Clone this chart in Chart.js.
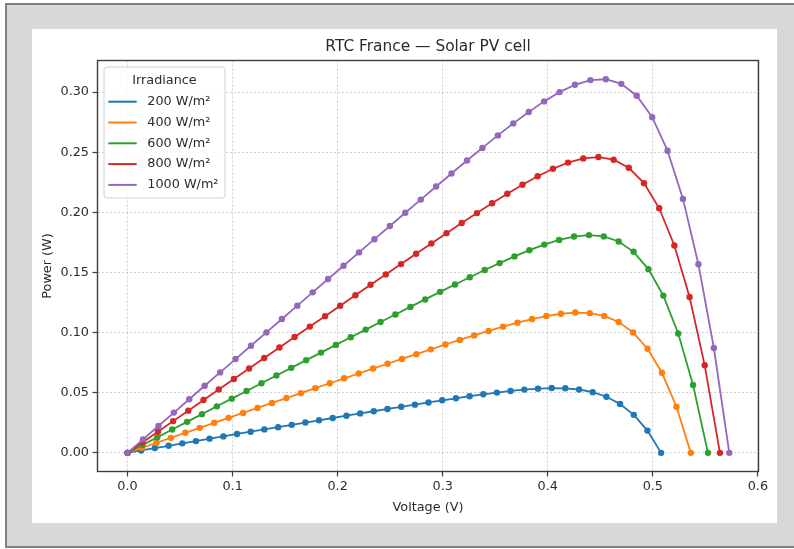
<!DOCTYPE html>
<html><head><meta charset="utf-8">
<script src="https://cdn.jsdelivr.net/npm/chart.js@4.4.1/dist/chart.umd.min.js"></script>
<style>
html,body{margin:0;padding:0;background:#fff;width:794px;height:549px;overflow:hidden;}
#frame{position:absolute;left:5px;top:3px;width:800px;height:545px;background:#d8d8d8;border:2px solid #7f7f7f;border-right:none;box-sizing:border-box;}
#panel{position:absolute;left:32px;top:29px;width:745px;height:494px;background:#fff;}
canvas{position:absolute;left:0;top:0;}
</style></head><body>
<div id="frame"></div><div id="panel"></div>
<canvas id="c" width="794" height="549"></canvas>
<script>
const chartTitle = 'RTC France — Solar PV cell';
const xAxisTitle = 'Voltage (V)';
const yAxisTitle = 'Power (W)';
const legendTitle = 'Irradiance';
const seriesLabels = ['200 W/m²', '400 W/m²', '600 W/m²', '800 W/m²', '1000 W/m²'];
const seriesColors = ['#1f77b4', '#ff7f0e', '#2ca02c', '#d62728', '#9467bd'];

const voltage200 = [0, 0.0130, 0.0260, 0.0391, 0.0521, 0.0651, 0.0781, 0.0912, 0.1042, 0.1172, 0.1302, 0.1433, 0.1563, 0.1693, 0.1823, 0.1953, 0.2084, 0.2214, 0.2344, 0.2474, 0.2605, 0.2735, 0.2865, 0.2995, 0.3126, 0.3256, 0.3386, 0.3516, 0.3646, 0.3777, 0.3907, 0.4037, 0.4167, 0.4298, 0.4428, 0.4558, 0.4688, 0.4819, 0.4949, 0.5079];
const power200 = [0, 0.0020, 0.0040, 0.0059, 0.0079, 0.0098, 0.0118, 0.0137, 0.0157, 0.0176, 0.0195, 0.0214, 0.0233, 0.0252, 0.0271, 0.0290, 0.0309, 0.0328, 0.0346, 0.0365, 0.0383, 0.0401, 0.0419, 0.0437, 0.0454, 0.0471, 0.0487, 0.0501, 0.0515, 0.0526, 0.0534, 0.0539, 0.0537, 0.0527, 0.0505, 0.0467, 0.0407, 0.0316, 0.0185, 0];

const voltage400 = [0, 0.0137, 0.0275, 0.0412, 0.0550, 0.0687, 0.0825, 0.0962, 0.1100, 0.1237, 0.1375, 0.1512, 0.1650, 0.1787, 0.1925, 0.2062, 0.2200, 0.2337, 0.2475, 0.2612, 0.2750, 0.2887, 0.3025, 0.3162, 0.3300, 0.3437, 0.3575, 0.3712, 0.3850, 0.3987, 0.4125, 0.4262, 0.4400, 0.4537, 0.4675, 0.4812, 0.4950, 0.5087, 0.5225, 0.5362];
const power400 = [0, 0.0042, 0.0084, 0.0125, 0.0167, 0.0208, 0.0250, 0.0291, 0.0332, 0.0374, 0.0415, 0.0456, 0.0497, 0.0538, 0.0579, 0.0620, 0.0660, 0.0701, 0.0741, 0.0781, 0.0821, 0.0861, 0.0901, 0.0939, 0.0977, 0.1014, 0.1050, 0.1083, 0.1113, 0.1138, 0.1157, 0.1167, 0.1162, 0.1139, 0.1088, 0.1002, 0.0866, 0.0666, 0.0384, 0];

const voltage600 = [0, 0.0142, 0.0283, 0.0425, 0.0567, 0.0708, 0.0850, 0.0992, 0.1133, 0.1275, 0.1417, 0.1558, 0.1700, 0.1842, 0.1983, 0.2125, 0.2267, 0.2408, 0.2550, 0.2692, 0.2833, 0.2975, 0.3117, 0.3258, 0.3400, 0.3542, 0.3683, 0.3825, 0.3967, 0.4108, 0.4250, 0.4392, 0.4533, 0.4675, 0.4817, 0.4958, 0.5100, 0.5242, 0.5383, 0.5525];
const power600 = [0, 0.0065, 0.0129, 0.0194, 0.0258, 0.0322, 0.0387, 0.0451, 0.0515, 0.0579, 0.0643, 0.0707, 0.0771, 0.0834, 0.0898, 0.0961, 0.1025, 0.1088, 0.1151, 0.1214, 0.1276, 0.1339, 0.1400, 0.1461, 0.1521, 0.1578, 0.1634, 0.1686, 0.1732, 0.1771, 0.1799, 0.1811, 0.1800, 0.1758, 0.1672, 0.1528, 0.1308, 0.0993, 0.0564, 0];

const voltage800 = [0, 0.0145, 0.0289, 0.0434, 0.0578, 0.0723, 0.0868, 0.1012, 0.1157, 0.1301, 0.1446, 0.1590, 0.1735, 0.1880, 0.2024, 0.2169, 0.2313, 0.2458, 0.2603, 0.2747, 0.2892, 0.3036, 0.3181, 0.3326, 0.3470, 0.3615, 0.3759, 0.3904, 0.4049, 0.4193, 0.4338, 0.4482, 0.4627, 0.4771, 0.4916, 0.5061, 0.5205, 0.5350, 0.5494, 0.5639];
const power800 = [0, 0.0088, 0.0176, 0.0264, 0.0351, 0.0439, 0.0527, 0.0614, 0.0702, 0.0789, 0.0876, 0.0963, 0.1050, 0.1137, 0.1224, 0.1311, 0.1398, 0.1484, 0.1570, 0.1656, 0.1742, 0.1827, 0.1911, 0.1994, 0.2076, 0.2155, 0.2230, 0.2300, 0.2363, 0.2414, 0.2449, 0.2460, 0.2438, 0.2371, 0.2243, 0.2034, 0.1725, 0.1296, 0.0728, 0];

const voltage1000 = [0, 0.0147, 0.0294, 0.0441, 0.0587, 0.0734, 0.0881, 0.1028, 0.1175, 0.1322, 0.1469, 0.1616, 0.1762, 0.1909, 0.2056, 0.2203, 0.2350, 0.2497, 0.2644, 0.2791, 0.2937, 0.3084, 0.3231, 0.3378, 0.3525, 0.3672, 0.3819, 0.3965, 0.4112, 0.4259, 0.4406, 0.4553, 0.4700, 0.4847, 0.4994, 0.5140, 0.5287, 0.5434, 0.5581, 0.5728];
const power1000 = [0, 0.0112, 0.0223, 0.0335, 0.0446, 0.0558, 0.0669, 0.0780, 0.0891, 0.1002, 0.1113, 0.1224, 0.1335, 0.1446, 0.1556, 0.1667, 0.1777, 0.1887, 0.1997, 0.2106, 0.2215, 0.2323, 0.2431, 0.2536, 0.2640, 0.2740, 0.2835, 0.2923, 0.3000, 0.3061, 0.3100, 0.3107, 0.3069, 0.2970, 0.2792, 0.2513, 0.2112, 0.1569, 0.0872, 0];

const xTicks = [0.0, 0.1, 0.2, 0.3, 0.4, 0.5, 0.6];
const yTicks = [0.00, 0.05, 0.10, 0.15, 0.20, 0.25, 0.30];
const xRange = [-0.0286, 0.6006];
const yRange = [-0.0155, 0.3263];

const voltages = [voltage200, voltage400, voltage600, voltage800, voltage1000];
const powers = [power200, power400, power600, power800, power1000];

const FONT = '"DejaVu Sans", sans-serif';
const TXT = '#2b2b2b';

const datasets = seriesLabels.map((label, i) => ({
  label,
  data: voltages[i].map((v, k) => ({x: v, y: powers[i][k]})),
  borderColor: seriesColors[i],
  backgroundColor: seriesColors[i],
  pointBackgroundColor: seriesColors[i],
  pointBorderWidth: 0,
  pointRadius: 3.2,
  borderWidth: 1.8,
  tension: 0,
  order: seriesLabels.length - 1 - i
}));

const decor = {
  id: 'decor',
  afterDatasetsDraw(chart) {
    const {ctx, chartArea: a} = chart;
    ctx.save();
    ctx.strokeStyle = '#3d3d3d';
    ctx.lineWidth = 1.4;
    ctx.strokeRect(a.left, a.top, a.right - a.left, a.bottom - a.top);
    ctx.restore();
  },
  afterDraw(chart) {
    const {ctx, chartArea: a} = chart;
    ctx.save();
    ctx.fillStyle = TXT;
    ctx.font = '15.4px ' + FONT;
    ctx.textAlign = 'center';
    ctx.textBaseline = 'middle';
    ctx.fillText(chartTitle, (a.left + a.right) / 2, 46.5);

    const bx = a.left + 6.5, by = a.top + 6.5, bw = 121, bh = 131, r = 3;
    ctx.beginPath();
    ctx.moveTo(bx + r, by);
    ctx.lineTo(bx + bw - r, by);
    ctx.quadraticCurveTo(bx + bw, by, bx + bw, by + r);
    ctx.lineTo(bx + bw, by + bh - r);
    ctx.quadraticCurveTo(bx + bw, by + bh, bx + bw - r, by + bh);
    ctx.lineTo(bx + r, by + bh);
    ctx.quadraticCurveTo(bx, by + bh, bx, by + bh - r);
    ctx.lineTo(bx, by + r);
    ctx.quadraticCurveTo(bx, by, bx + r, by);
    ctx.closePath();
    ctx.fillStyle = 'rgba(255,255,255,0.8)';
    ctx.fill();
    ctx.strokeStyle = '#d0d0d0';
    ctx.lineWidth = 1;
    ctx.stroke();

    ctx.fillStyle = TXT;
    ctx.font = '12.8px ' + FONT;
    ctx.textAlign = 'center';
    ctx.fillText(legendTitle, bx + bw / 2, by + 13.5);
    ctx.textAlign = 'left';
    chart.data.datasets.forEach((ds, i) => {
      const y = by + 34.7 + i * 20.8;
      ctx.strokeStyle = ds.borderColor;
      ctx.lineWidth = 2;
      ctx.beginPath();
      ctx.moveTo(bx + 4.3, y);
      ctx.lineTo(bx + 32.7, y);
      ctx.stroke();
      ctx.fillStyle = TXT;
      ctx.fillText(ds.label, bx + 43.3, y);
    });
    ctx.restore();
  }
};

const gridCommon = {
  color: 'rgba(0,0,0,0.2)',
  lineWidth: 0.9,
  drawTicks: true,
  tickLength: 5,
  tickColor: '#3d3d3d',
  tickWidth: 1.2,
  tickBorderDash: []
};

new Chart(document.getElementById('c'), {
  type: 'line',
  data: {datasets},
  options: {
    responsive: false,
    animation: false,
    events: [],
    devicePixelRatio: 1,
    layout: {padding: {left: 0, top: 60.5, right: 35.5, bottom: 0}},
    plugins: {legend: {display: false}, tooltip: {enabled: false}, title: {display: false}},
    scales: {
      x: {
        type: 'linear',
        min: xRange[0], max: xRange[1],
        afterBuildTicks: s => { s.ticks = xTicks.map(v => ({value: v})); },
        afterFit: s => { s.height = 77.5; },
        ticks: {callback: v => Number(v).toFixed(1), font: {family: FONT, size: 12.8}, color: TXT, padding: 2.5, maxRotation: 0, autoSkip: false},
        grid: gridCommon,
        border: {display: false, dash: [2, 2]},
        title: {display: true, text: xAxisTitle, font: {family: FONT, size: 12.8}, color: TXT, padding: {top: 0, bottom: 34}}
      },
      y: {
        type: 'linear',
        min: yRange[0], max: yRange[1],
        afterBuildTicks: s => { s.ticks = yTicks.map(v => ({value: v})); },
        afterFit: s => { s.width = 97.5; },
        ticks: {callback: v => Number(v).toFixed(2), font: {family: FONT, size: 12.8}, color: TXT, padding: 3.5, autoSkip: false},
        grid: gridCommon,
        border: {display: false, dash: [2, 2]},
        title: {display: true, text: yAxisTitle, font: {family: FONT, size: 12.8}, color: TXT, padding: {top: 39.6, bottom: 0}}
      }
    }
  },
  plugins: [decor]
});
</script>
</body></html>
